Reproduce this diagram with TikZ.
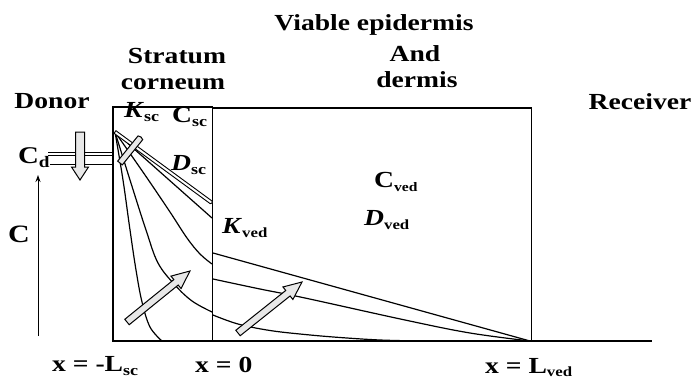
\documentclass[tikz,border=0pt]{standalone}
\usepackage{fontspec}
\setmainfont{Liberation Serif}
\usetikzlibrary{calc,arrows.meta}
\newcommand\sx[1]{\scalebox{1.2}[1]{#1}}
\newcommand\sbs[2][15]{\raisebox{-4.5pt}{\fontsize{#1}{#1}\selectfont #2}}
\newcommand\sbsup[2][14]{\raisebox{-3pt}{\fontsize{#1}{#1}\selectfont #2}}
% hollow arrow: [style]{tail}{tip}{shaft half width}{head half width}{head length}
\newcommand\harrow[6][hollow]{%
  \coordinate (hb) at ($(#3)!#6!(#2)$);
  \draw[#1] ($(#2)!#4!90:(#3)$) -- ($(hb)!#4!90:(#3)$) -- ($(hb)!#5!90:(#3)$) -- (#3)
    -- ($(hb)!#5!-90:(#3)$) -- ($(hb)!#4!-90:(#3)$) -- ($(#2)!#4!-90:(#3)$) -- cycle;}
\tikzset{
  txt/.style={inner sep=0pt, font=\fontsize{23}{25}\selectfont\bfseries},
  box/.style={line width=1.4pt},
  curve/.style={line width=1.2pt},
  hollow/.style={line width=1pt, fill=gray!18, line join=miter},
  hollowwhite/.style={line width=0.9pt, fill=white},
  axis/.style={line width=1pt, -{Stealth[length=7pt,width=5pt]}}
}
\begin{document}
\begin{tikzpicture}[x=1pt,y=-1pt]
\useasboundingbox (0,0) rectangle (696,380);
% headings
\node[txt, anchor=base] (via) at (374,30) {\sx{Viable epidermis}};
\node[txt, anchor=base] (and) at (415,61.5) {\sx{And}};
\node[txt, anchor=base] (der) at (417,87) {\sx{dermis}};
\node[txt, anchor=base] (str) at (177,63.5) {\sx{Stratum}};
\node[txt, anchor=base] (cor) at (173,89) {\sx{corneum}};
\node[txt, anchor=base] (don) at (52,108) {\sx{Donor}};
\node[txt, anchor=base] (rec) at (640,109.5) {\sx{Receiver}};
% boxes
\coordinate (sctl) at (113,107);
\coordinate (scbr) at (212.5,341);
\coordinate (vtl) at (212.5,108);
\coordinate (vtr) at (531.5,108);
\coordinate (vbr) at (531.5,341);
\coordinate (bl) at (113,341);
\coordinate (br) at (652,341);
\draw[box] (sctl) rectangle (scbr);
\draw[box] (vtl) -- (vtr) -- (vbr);
\draw[box] (bl) -- (br);
% donor lines
\coordinate (d1a) at (48,152.5); \coordinate (d1b) at (113,152.5);
\coordinate (d2a) at (48,155.5); \coordinate (d2b) at (113,155.5);
\coordinate (d3a) at (50,164.5); \coordinate (d3b) at (113,164.5);
\draw[line width=1pt] (d1a) -- (d1b) (d2a) -- (d2b) (d3a) -- (d3b);
% concentration axis
\coordinate (axb) at (38,336);
\coordinate (axt) at (38,175);
\draw[axis] (axb) -- (axt);
% profiles in stratum corneum
\coordinate (O) at (115,132);
\coordinate (p4) at (212,218);
\draw[curve] (O) -- (p4);
\draw[curve] plot[smooth, tension=0.6] coordinates {(115,132) (123,180) (130,230) (136,270) (142,302) (150,327) (162,341)};
\draw[curve] plot[smooth, tension=0.6] coordinates {(115,132) (130,180) (146,230) (158,263) (175,285) (192,301) (212,312)};
\draw[curve] plot[smooth, tension=0.6] coordinates {(115,132) (145,175) (170,212) (187,238) (200,254) (212,264)};
% profiles in viable epidermis
\coordinate (v1a) at (213,253);
\coordinate (lend) at (530,341);
\draw[curve] (v1a) -- (lend);
\draw[curve] plot[smooth, tension=0.6] coordinates {(213,279) (260,289) (305,298) (405,320) (470,333) (530,341)};
\draw[curve] plot[smooth, tension=0.6] coordinates {(213,315) (238,324) (270,330.5) (305,334.5) (340,337.5) (380,340) (420,341)};
% steady-state double line
\coordinate (dsend) at (212,203);
\harrow[hollowwhite]{O}{dsend}{1.6pt}{1.6pt}{1pt}
% arrows
\coordinate (kt) at (120,163); \coordinate (kh) at (141,137);
\harrow{kt}{kh}{3pt}{3pt}{1pt}
\coordinate (dt) at (80,132); \coordinate (dh) at (80,180);
\harrow{dt}{dh}{4.5pt}{8.5pt}{13pt}
\coordinate (at) at (127,322); \coordinate (ah) at (190,271);
\harrow{at}{ah}{3.5pt}{8pt}{18pt}
\coordinate (bt) at (238,333); \coordinate (bh) at (302,282);
\harrow{bt}{bh}{3.5pt}{8pt}{18pt}
% labels
\node[txt, anchor=base west] (cd) at (18,163) {\sx{\fontsize{24}{24}\selectfont C\sbs[16]{d}}};
\node[txt, anchor=base] (cax) at (19,242) {\sx{\fontsize{25}{25}\selectfont C}};
\node[txt, anchor=base west] (ksc) at (124,117) {\sx{\textit{K}\sbs{sc}}};
\node[txt, anchor=base west] (csc) at (172,122) {\sx{C\sbs{sc}}};
\node[txt, anchor=base west] (dsc) at (171,170) {\sx{\textit{D}\sbs{sc}}};
\node[txt, anchor=base west] (kved) at (222,233) {\sx{\textit{K}\sbs[14]{ved}}};
\node[txt, anchor=base west] (cved) at (374,187) {\sx{C\sbs[13]{ved}}};
\node[txt, anchor=base west] (dved) at (364,225) {\sx{\textit{D}\sbs[14]{ved}}};
\node[txt, anchor=base west] (xl) at (52,371) {\sx{x = -L\sbs{sc}}};
\node[txt, anchor=base west] (x0) at (195,372) {\sx{x = 0}};
\node[txt, anchor=base west] (xr) at (485,373) {\sx{x = L\sbsup{ved}}};
\end{tikzpicture}
\end{document}
